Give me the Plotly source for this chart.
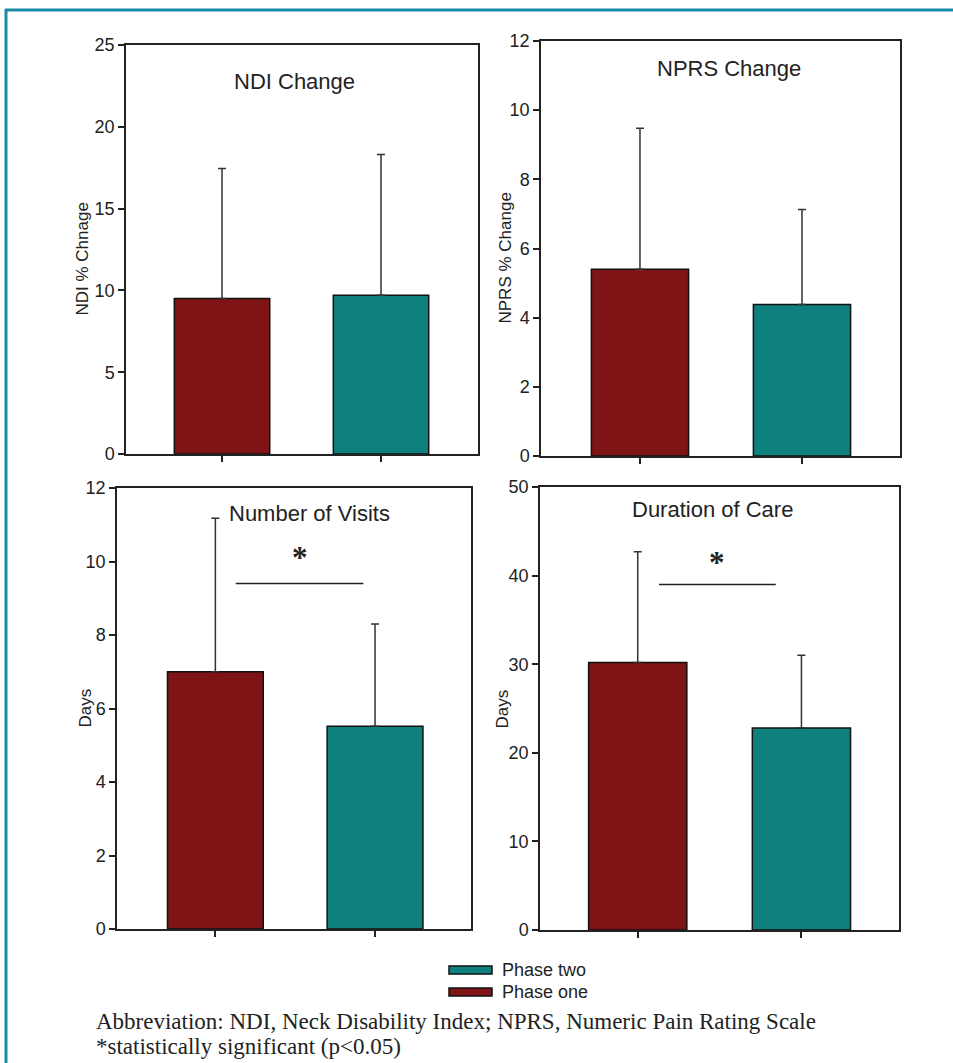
import plotly.graph_objects as go

W, H = 953, 1063

phases = ["Phase one", "Phase two"]
phase_colors = ["#7f1416", "#0e807e"]

panel_titles = ["NDI Change", "NPRS Change", "Number of Visits", "Duration of Care"]
y_titles = ["NDI % Chnage", "NPRS % Change", "Days", "Days"]
y_max = [25, 12, 12, 50]
y_dtick = [5, 2, 2, 10]

ndi_mean = [9.5, 9.7]
ndi_sd = [7.95, 8.6]
nprs_mean = [5.4, 4.38]
nprs_sd = [4.08, 2.75]
visits_mean = [7.0, 5.52]
visits_sd = [4.18, 2.78]
duration_mean = [30.2, 22.8]
duration_sd = [12.5, 8.2]

means = [ndi_mean, nprs_mean, visits_mean, duration_mean]
sds = [ndi_sd, nprs_sd, visits_sd, duration_sd]
significant = [False, False, True, True]
sig_line_y = [None, None, 9.4, 39.0]
sig_star_y = [None, None, 10.1, 41.45]

footnote1 = "Abbreviation: NDI, Neck Disability Index; NPRS, Numeric Pain Rating Scale"
footnote2 = "*statistically significant (p<0.05)"

# panel pixel boxes (left, top, right, bottom)
boxes = [(126, 45, 478, 454), (541, 41, 900, 456), (117, 488, 471, 929), (540, 487, 899, 930)]
xranges = [(-0.604, 1.61), (-0.611, 1.605), (-0.616, 1.601), (-0.597, 1.596)]
sig_x = [None, None, (0.128, 0.927), (0.13, 0.843)]
title_pos = [(294, 82), (729, 68), (309, 513), (712, 509)]
ytitle_x = [82, 505, 85, 502]

def px(x):
    return x / W

def py(y):
    return 1 - y / H

fig = go.Figure()
shapes = []
annotations = []
font_sans = "Liberation Sans, Arial, sans-serif"
axis_col = "#222222"

for i in range(4):
    ax = "" if i == 0 else str(i + 1)
    xa = "x" + ax
    ya = "y" + ax
    for j in range(2):
        fig.add_trace(go.Bar(
            x=[j], y=[means[i][j]], width=0.6,
            marker=dict(color=phase_colors[j], line=dict(color="#111111", width=1.5)),
            error_y=dict(type="data", symmetric=False, array=[sds[i][j]], arrayminus=[0],
                         color="#333333", thickness=1.5, width=4),
            name=phases[j], showlegend=False, xaxis=xa, yaxis=ya,
        ))
    l, t, r, b = boxes[i]
    fig.layout["xaxis" + ax] = dict(
        domain=[px(l), px(r)], range=list(xranges[i]), anchor=ya, automargin=False,
        tickvals=[0, 1], ticktext=["", ""], ticks="outside", ticklen=6,
        tickcolor=axis_col, tickwidth=1.5, showgrid=False, zeroline=False,
        showline=True, linecolor=axis_col, linewidth=1.5, mirror=True, fixedrange=True,
    )
    fig.layout["yaxis" + ax] = dict(
        domain=[py(b), py(t)], range=[0, y_max[i]], anchor=xa, automargin=False,
        dtick=y_dtick[i], tick0=0, ticks="outside", ticklen=6,
        tickcolor=axis_col, tickwidth=1.5, showgrid=False, zeroline=False,
        showline=True, linecolor=axis_col, linewidth=1.5, mirror=True,
        tickfont=dict(family=font_sans, size=18, color="#222222"),
    )
    # panel titles
    tx, ty = title_pos[i]
    annotations.append(dict(x=px(tx), y=py(ty), xref="paper", yref="paper",
                            text=panel_titles[i], showarrow=False,
                            font=dict(family=font_sans, size=22, color="#222222"),
                            xanchor="center", yanchor="middle"))
    # y titles
    annotations.append(dict(x=px(ytitle_x[i]), y=py((t + b) / 2 + (10 if i < 2 else 0)),
                            xref="paper", yref="paper",
                            text=y_titles[i], showarrow=False, textangle=-90,
                            font=dict(family=font_sans, size=17, color="#222222"),
                            xanchor="center", yanchor="middle"))
    if significant[i]:
        x0, x1 = sig_x[i]
        shapes.append(dict(type="line", xref=xa, yref=ya, x0=x0, x1=x1,
                           y0=sig_line_y[i], y1=sig_line_y[i],
                           line=dict(color="#222222", width=1.5)))
        annotations.append(dict(x=(x0 + x1) / 2, y=sig_star_y[i], xref=xa, yref=ya,
                                text="<b>*</b>", showarrow=False,
                                font=dict(family="Liberation Serif, serif", size=31, color="#222222"),
                                xanchor="center", yanchor="middle"))

# legend (custom swatches)
leg_items = [("Phase two", phase_colors[1], 970), ("Phase one", phase_colors[0], 992)]
for name, col, yy in leg_items:
    shapes.append(dict(type="rect", xref="paper", yref="paper",
                       x0=px(449), x1=px(492), y0=py(yy + 4), y1=py(yy - 4),
                       fillcolor=col, line=dict(color="#111111", width=1.5)))
    annotations.append(dict(x=px(500), y=py(yy), xref="paper", yref="paper",
                            text=name, showarrow=False, xanchor="left", yanchor="middle",
                            font=dict(family=font_sans, size=18, color="#222222")))

# footnotes
annotations.append(dict(x=px(94), y=py(1021), xref="paper", yref="paper", text=footnote1,
                        showarrow=False, xanchor="left", yanchor="middle",
                        font=dict(family="Liberation Serif, serif", size=23, color="#222222")))
annotations.append(dict(x=px(94), y=py(1046), xref="paper", yref="paper", text=footnote2,
                        showarrow=False, xanchor="left", yanchor="middle",
                        font=dict(family="Liberation Serif, serif", size=23, color="#222222")))

# outer frame (teal)
shapes.append(dict(type="line", xref="paper", yref="paper", x0=px(5), x1=1,
                   y0=py(10), y1=py(10), line=dict(color="#1a8aa8", width=3)))
shapes.append(dict(type="line", xref="paper", yref="paper", x0=px(6), x1=px(6),
                   y0=py(9), y1=0, line=dict(color="#1a8aa8", width=3)))

fig.update_layout(
    width=W, height=H, margin=dict(l=0, r=0, t=0, b=0, autoexpand=False),
    paper_bgcolor="white", plot_bgcolor="white",
    showlegend=False, shapes=shapes, annotations=annotations,
    font=dict(family=font_sans),
)

post = (
    "document.documentElement.style.margin='0';"
    "document.body.style.margin='0';document.body.style.padding='0';"
    "document.body.style.overflow='hidden';"
    "var gd=document.getElementById('{plot_id}');"
    "gd.style.position='fixed';gd.style.top='0px';gd.style.left='0px';"
)
fig.write_html("out.html", config={"displayModeBar": False}, post_script=post)
